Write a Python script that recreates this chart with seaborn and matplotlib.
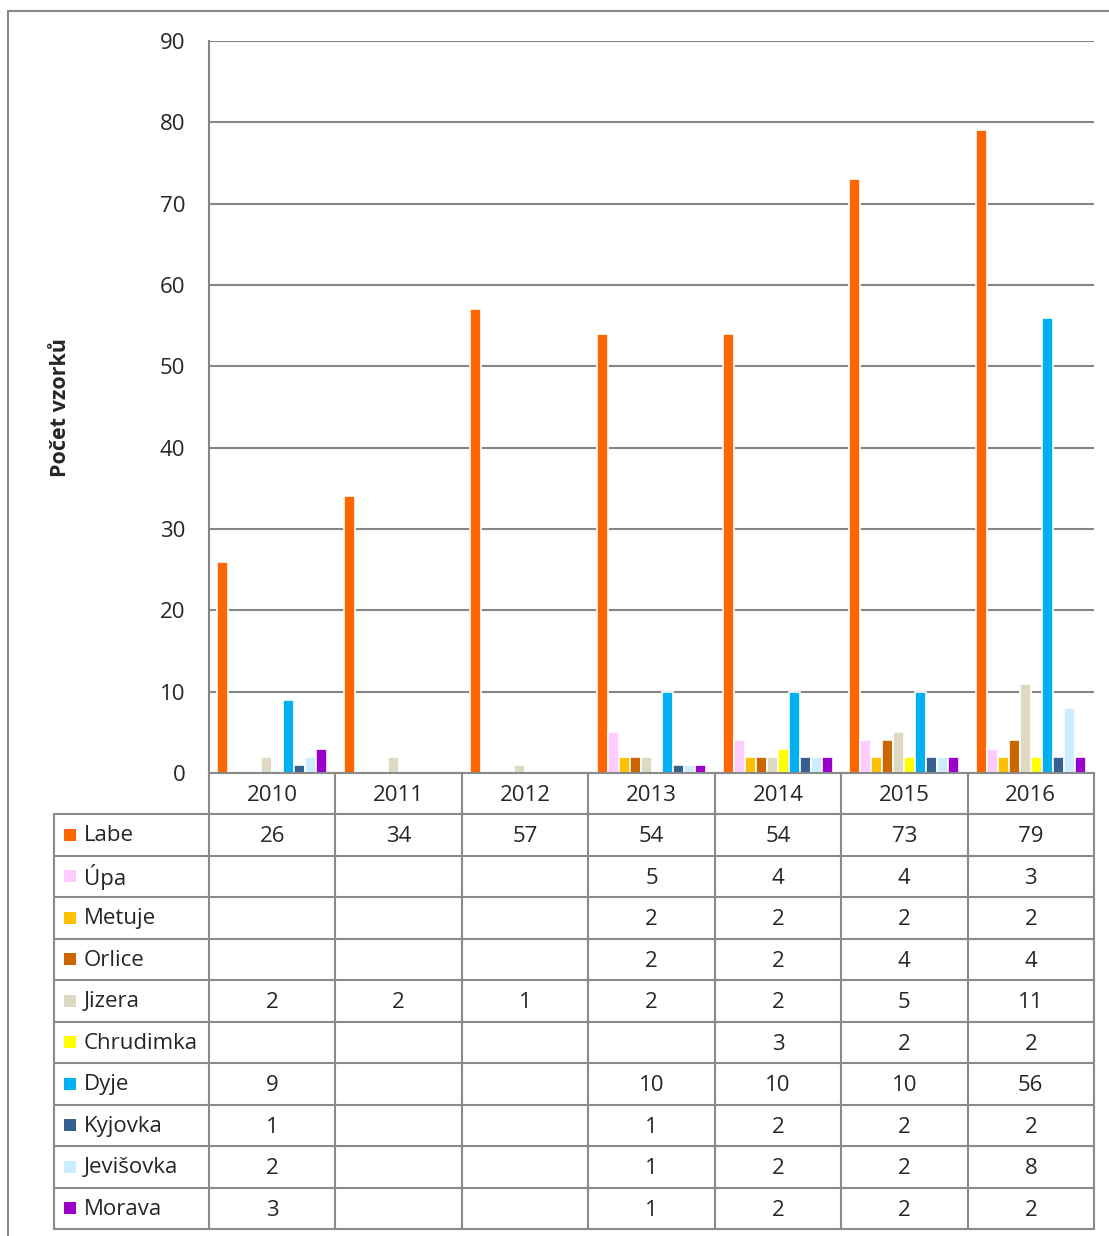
import pandas as pd
import numpy as np
import seaborn as sns
import matplotlib.pyplot as plt
from matplotlib.lines import Line2D
from matplotlib.patches import Rectangle

# =========================
# Data
# =========================
years = ["2010", "2011", "2012", "2013", "2014", "2015", "2016"]
rivers = ["Labe", "Úpa", "Metuje", "Orlice", "Jizera", "Chrudimka",
          "Dyje", "Kyjovka", "Jevišovka", "Morava"]

labe = [26, 34, 57, 54, 54, 73, 79]
upa = [None, None, None, 5, 4, 4, 3]
metuje = [None, None, None, 2, 2, 2, 2]
orlice = [None, None, None, 2, 2, 4, 4]
jizera = [2, 2, 1, 2, 2, 5, 11]
chrudimka = [None, None, None, None, 3, 2, 2]
dyje = [9, None, None, 10, 10, 10, 56]
kyjovka = [1, None, None, 1, 2, 2, 2]
jevisovka = [2, None, None, 1, 2, 2, 8]
morava = [3, None, None, 1, 2, 2, 2]

series = [labe, upa, metuje, orlice, jizera, chrudimka, dyje, kyjovka, jevisovka, morava]

colors = ["#FF6600", "#FFCCFF", "#FFC000", "#CC6600", "#DDD9C3",
          "#FFFF00", "#00B0F0", "#366092", "#CCECFF", "#9900CC"]

rows = []
for river, vals in zip(rivers, series):
    for yr, v in zip(years, vals):
        rows.append({"year": yr, "river": river, "count": np.nan if v is None else v})
df = pd.DataFrame(rows)

# =========================
# Plot
# =========================
sns.set_style("white")
plt.rcParams["font.family"] = ["Open Sans", "DejaVu Sans"]
FS = 16

W, H = 1109, 1236
fig = plt.figure(figsize=(W / 100, H / 100), dpi=100)

x0, x1 = 209, 1094
y_top, y_zero = 41, 773
ax = fig.add_axes([x0 / W, (H - y_zero) / H, (x1 - x0) / W, (y_zero - y_top) / H])

sns.barplot(data=df, x="year", y="count", hue="river", hue_order=rivers,
            order=years, palette=colors, saturation=1, width=0.87, gap=0,
            edgecolor="white", linewidth=1.2, legend=False, ax=ax, zorder=3)

ax.set_ylim(0, 90)
ax.set_xlim(-0.5, len(years) - 0.5)
ax.set_yticks(range(0, 91, 10))
ax.tick_params(axis="y", labelsize=FS, length=0, pad=17)
ax.set_xticks([])
ax.set_xlabel("")
ax.set_ylabel("")
ax.grid(axis="y", color="#868686", linewidth=1.5, zorder=0)
ax.set_axisbelow(True)
for s in ["top", "right", "bottom"]:
    ax.spines[s].set_visible(False)
ax.spines["left"].set_color("#868686")
ax.spines["left"].set_linewidth(1.5)

fig.text(60 / W, 1 - 408 / H, "Počet vzorků", rotation=90, ha="center",
         va="center", fontsize=15.5, fontweight="bold")

# =========================
# Data table
# =========================
tx0, ty1 = 54, 1229
tax = fig.add_axes([tx0 / W, (H - ty1) / H, (x1 - tx0) / W, (ty1 - y_zero) / H])
tax.set_xlim(tx0, x1)
tax.set_ylim(ty1, y_zero)
tax.axis("off")

lc = "#8A8A8A"
lw = 1.5
col_w = (x1 - x0) / len(years)
head_bot = 814
row_h = (ty1 - head_bot) / len(rivers)

# horizontal lines
tax.plot([x0, x1], [y_zero, y_zero], color=lc, lw=lw, clip_on=False)
for i in range(len(rivers) + 1):
    y = head_bot + i * row_h
    tax.plot([tx0, x1], [y, y], color=lc, lw=lw, clip_on=False)
# vertical lines
tax.plot([tx0, tx0], [head_bot, ty1], color=lc, lw=lw, clip_on=False)
for j in range(len(years) + 1):
    x = x0 + j * col_w
    tax.plot([x, x], [y_zero, ty1], color=lc, lw=lw, clip_on=False)

# header
for j, yr in enumerate(years):
    tax.text(x0 + (j + 0.5) * col_w, (y_zero + head_bot) / 2 + 2, yr,
             ha="center", va="center", fontsize=FS)

# rows
for i, (river, vals, c) in enumerate(zip(rivers, series, colors)):
    yc = head_bot + (i + 0.5) * row_h
    tax.add_patch(Rectangle((64, yc - 6), 12, 12, facecolor=c, edgecolor="none",
                            clip_on=False))
    tax.text(84, yc + 1, river, ha="left", va="center", fontsize=FS)
    for j, v in enumerate(vals):
        if v is not None:
            tax.text(x0 + (j + 0.5) * col_w, yc + 2, str(v),
                     ha="center", va="center", fontsize=FS)

# outer frame
fig.add_artist(Line2D([8 / W, 8 / W], [0, 1 - 11 / H], color="#888888", lw=1.5))
fig.add_artist(Line2D([8 / W, 1], [1 - 11 / H, 1 - 11 / H], color="#888888", lw=1.5))

plt.savefig("out.png", dpi=100)
plt.close()
